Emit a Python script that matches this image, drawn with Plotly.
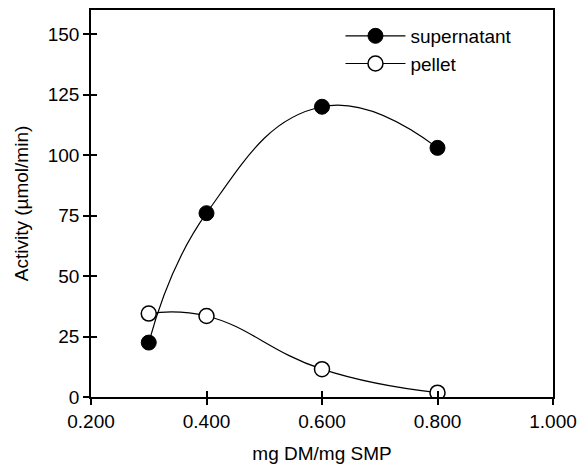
import plotly.graph_objects as go

x_vals = [0.3, 0.4, 0.6, 0.8]
supernatant = [22.5, 76, 120, 103]
pellet = [34.5, 33.5, 11.5, 1.8]
x_ticks = [0.2, 0.4, 0.6, 0.8, 1.0]
x_tick_labels = ["0.200", "0.400", "0.600", "0.800", "1.000"]
y_ticks = [0, 25, 50, 75, 100, 125, 150]

FONT = "Liberation Sans, Arial, sans-serif"

fig = go.Figure()
fig.add_trace(go.Scatter(
    x=x_vals, y=supernatant, name="supernatant", mode="lines+markers",
    line=dict(color="black", width=1.2, shape="spline", smoothing=1.3),
    marker=dict(symbol="circle", size=15, color="black", line=dict(color="black", width=1)),
))
fig.add_trace(go.Scatter(
    x=x_vals, y=pellet, name="pellet", mode="lines+markers",
    xaxis="x2", yaxis="y2",
    line=dict(color="black", width=1.2, shape="spline", smoothing=1.3),
    marker=dict(symbol="circle", size=15, color="white", line=dict(color="black", width=1.5)),
))

axis_common = dict(showgrid=False, zeroline=False, linecolor="black", linewidth=1.5,
                   tickcolor="black", tickwidth=1.5, ticklen=6)

fig.update_layout(
    width=585, height=474,
    margin=dict(l=91, r=26, t=8, b=77),
    paper_bgcolor="white", plot_bgcolor="white",
    font=dict(family=FONT, size=19, color="black"),
    xaxis=dict(range=[0.2, 1.0], tickvals=x_ticks, ticktext=x_tick_labels,
               showline=True, mirror=True, ticks="outside",
               title=dict(text="mg DM/mg SMP", font=dict(size=19), standoff=16),
               **axis_common),
    yaxis=dict(range=[0, 160], tickvals=y_ticks, showline=True, mirror=True,
               ticks="outside",
               title=dict(text="Activity (µmol/min)", font=dict(size=19), standoff=14),
               **axis_common),
    xaxis2=dict(range=[0.2, 1.0], tickvals=x_ticks, overlaying="x", side="bottom",
                ticks="inside", showticklabels=False, showline=False, **axis_common),
    yaxis2=dict(range=[0, 160], tickvals=y_ticks, overlaying="y", side="left",
                ticks="inside", showticklabels=False, showline=False, **axis_common),
    legend=dict(x=0.54, y=0.982, xanchor="left", yanchor="top",
                bgcolor="rgba(0,0,0,0)", font=dict(size=19),
                itemwidth=60, tracegroupgap=0),
    showlegend=True,
)
fig.write_html("out.html", config={"displayModeBar": False},
               post_script="document.body.style.margin='0';")
